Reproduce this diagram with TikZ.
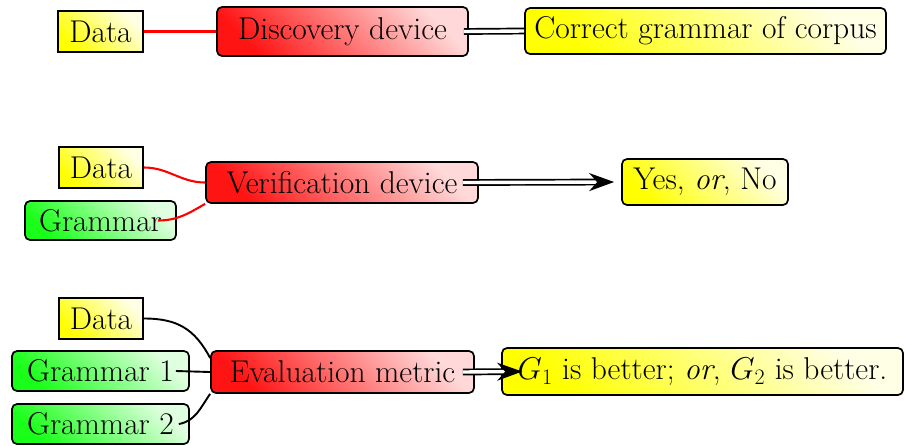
\RequirePackage{fix-cm}
\documentclass[tikz,border=0pt]{standalone}
\usetikzlibrary{arrows.meta}
\tikzset{
  box/.style={draw=black, line width=1.7pt, inner sep=2pt,
    font=\fontsize{31.5}{37}\selectfont},
  rbox/.style={box, rounded corners=5pt},
  yfill/.style={top color=yellow!10, bottom color=yellow, shading angle=-45},
  rfill/.style={top color=red!15, bottom color=red!92, shading angle=-45},
  gfill/.style={top color=green!12, bottom color=green!90, shading angle=-45},
  redlink/.style={draw=red, line width=2.1pt},
  blklink/.style={draw=black, line width=1.9pt},
  dbl/.style={draw=black, double=white, double distance=3.4pt, line width=1.7pt},
  bigtip/.style={-{Stealth[length=25pt, width=18pt, inset=8pt]}},
}
\begin{document}
\begin{tikzpicture}[x=1pt, y=-1pt]
\useasboundingbox (0,0) rectangle (905,445);

% discovery procedure
\node[box, yfill, minimum width=85, minimum height=41] (d1) at (100.5,31.5) {Data};
\node[rbox, rfill, minimum width=251, minimum height=49] (disc) at (342.5,31.5) {Discovery device};
\node[rbox, yfill, minimum width=361, minimum height=46] (cgc) at (705.5,31) {Correct grammar of corpus};
\draw[redlink] (d1.east) -- (disc.west);
\draw[dbl] ([xshift=-5pt]disc.east) -- (cgc.west);

% verification procedure
\node[box, yfill, minimum width=84, minimum height=41] (d2) at (101,167.5) {Data};
\node[rbox, gfill, minimum width=151, minimum height=39] (gr) at (100.5,220.5) {Grammar};
\node[rbox, rfill, minimum width=272, minimum height=41] (ver) at (342,182.5) {Verification device};
\node[rbox, yfill, minimum width=166, minimum height=46] (yes) at (705,182) {Yes, \textit{or}, No};
\draw[redlink] (d2.east) to[out=0, in=180] (ver.west);
\draw[redlink] ([xshift=-19pt]gr.east) to[out=0, in=210] (ver.south west);
\draw[dbl, bigtip] ([xshift=-16pt]ver.east) -- ([xshift=-7pt]yes.west);

% evaluation procedure
\node[box, yfill, minimum width=84, minimum height=41] (d3) at (101,318.5) {Data};
\node[rbox, gfill, minimum width=177, minimum height=40] (g1) at (100.5,371) {Grammar 1};
\node[rbox, gfill, minimum width=177, minimum height=40] (g2) at (100.5,424) {Grammar 2};
\node[rbox, rfill, minimum width=263, minimum height=42] (ev) at (342.5,372) {Evaluation metric};
\node[rbox, yfill, minimum width=401, minimum height=47] (res) at (702.5,371.5)
  {$G_1$ is better; \textit{or}, $G_2$ is better.};
\draw[blklink] (d3.east) to[out=0, in=118, looseness=1.1] ([yshift=14pt]ev.west);
\draw[blklink] ([xshift=-14pt]g1.east) -- (ev.west);
\draw[blklink] ([xshift=-11pt]g2.east) to[out=10, in=235] (ev.south west);
\draw[dbl, bigtip] ([xshift=-12pt]ev.east) -- ([xshift=21pt]res.west);
\end{tikzpicture}
\end{document}
